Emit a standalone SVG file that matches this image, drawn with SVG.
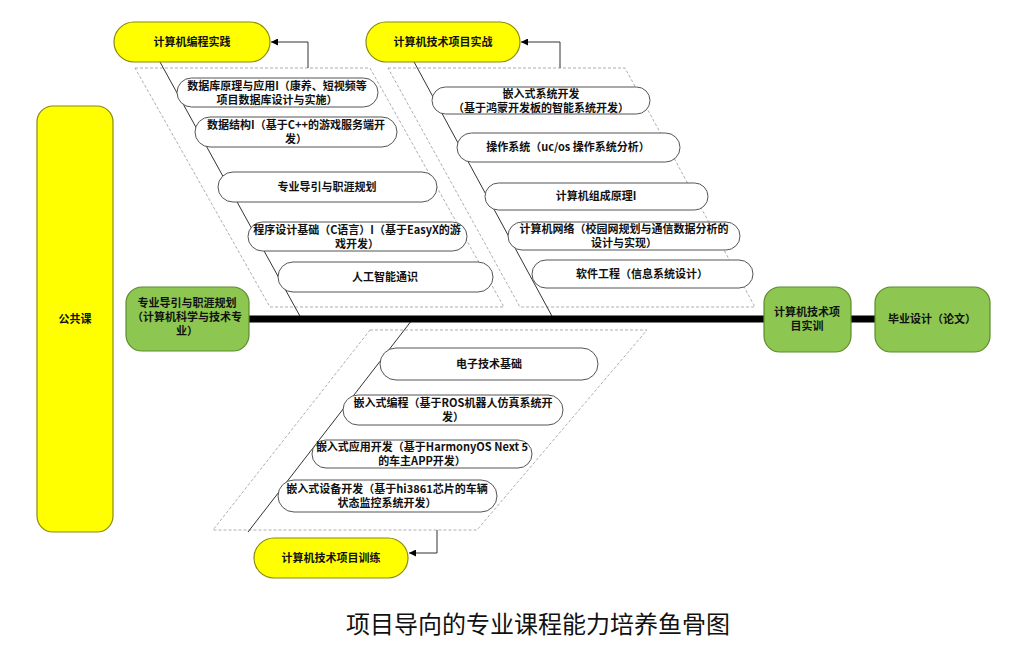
<svg xmlns="http://www.w3.org/2000/svg" width="1030" height="660" viewBox="0 0 1030 660">
<style>
.t{font-family:"Noto Sans CJK SC","Liberation Sans",sans-serif;font-size:11px;font-weight:bold;fill:#111;text-anchor:middle}
.pill{fill:#fff;stroke:#555;stroke-width:1}
.yel{fill:#FFFF00;stroke:#8a8a10;stroke-width:1.2}
.grn{fill:#8DC650;stroke:#5B8C2A;stroke-width:1.2}
.dash{fill:none;stroke:#999;stroke-width:0.8;stroke-dasharray:3 2}
.bone{stroke:#333;stroke-width:1;fill:none}
.arr{stroke:#333;stroke-width:1;fill:none;marker-end:url(#ah)}
.spine{stroke:#000;stroke-width:7;stroke-linecap:round}
</style>
<defs>
<marker id="ah" viewBox="0 0 10 10" refX="10" refY="5" markerWidth="9" markerHeight="7" markerUnits="userSpaceOnUse" orient="auto">
<path d="M0,0 L10,5 L0,10 z" fill="#000"/>
</marker>
</defs>
<rect width="1030" height="660" fill="#fff"/>
<g id="connectors">
<polygon class="dash" points="135,68 370,68 504,307 270,307"/>
<polygon class="dash" points="388,68 625,68 755,307 520,307"/>
<polygon class="dash" points="370,330 647,330 477,530 213,530"/>
<line class="bone" x1="160" y1="62" x2="301" y2="318"/>
<line class="bone" x1="413" y1="60" x2="553" y2="318"/>
<line class="bone" x1="412" y1="320" x2="248" y2="532"/>
<polyline class="arr" points="308,68 308,42 271,42"/>
<polyline class="arr" points="560,68 560,42 521,42"/>
<polyline class="arr" points="437,530 437,553 409,553"/>
<line class="spine" x1="248" y1="319" x2="765" y2="319"/>
<line class="spine" x1="851" y1="319" x2="875" y2="319"/>
</g>
<g id="n-gonggong"><rect class="yel" x="37" y="106" width="76" height="426" rx="16"/><text class="t" x="75" y="323">公共课</text></g>
<g id="n-zydy"><rect class="grn" x="126" y="287" width="123" height="64" rx="16"/>
<text class="t" x="187" y="307">专业导引与职涯规划</text><text class="t" x="187" y="321">（计算机科学与技术专</text><text class="t" x="187" y="335">业）</text></g>
<g id="n-sx"><rect class="grn" x="764" y="287" width="87" height="65" rx="16"/>
<text class="t" x="807" y="316">计算机技术项</text><text class="t" x="807" y="330">目实训</text></g>
<g id="n-by"><rect class="grn" x="875" y="287" width="115" height="65" rx="16"/>
<text class="t" x="932" y="323">毕业设计（论文）</text></g>
<g id="n-bcsj"><rect class="yel" x="114" y="22" width="156" height="40" rx="20"/><text class="t" x="192" y="46">计算机编程实践</text></g>
<g id="n-xmsz"><rect class="yel" x="366" y="22" width="154" height="40" rx="20"/><text class="t" x="443" y="46">计算机技术项目实战</text></g>
<g id="n-xmxl"><rect class="yel" x="254" y="538" width="154" height="40" rx="20"/><text class="t" x="331" y="562">计算机技术项目训练</text></g>
<g id="c1"><rect class="pill" x="177" y="78" width="201" height="29" rx="14.5"/><text class="t" x="277" y="90">数据库原理与应用I（康养、短视频等</text><text class="t" x="277" y="104">项目数据库设计与实施）</text></g>
<g id="c2"><rect class="pill" x="195" y="117" width="202" height="30" rx="15"/><text class="t" x="296" y="129">数据结构I（基于C++的游戏服务端开</text><text class="t" x="296" y="143">发）</text></g>
<g id="c3"><rect class="pill" x="218" y="172" width="219" height="30" rx="15"/><text class="t" x="327" y="191">专业导引与职涯规划</text></g>
<g id="c4"><rect class="pill" x="248" y="222" width="219" height="29" rx="14.5"/><text class="t" x="357" y="234">程序设计基础（C语言）I（基于EasyX的游</text><text class="t" x="357" y="248">戏开发）</text></g>
<g id="c5"><rect class="pill" x="278" y="262" width="215" height="30" rx="15"/><text class="t" x="385" y="281">人工智能通识</text></g>
<g id="c6"><rect class="pill" x="432" y="87" width="218" height="27" rx="13.5"/><text class="t" x="541" y="98">嵌入式系统开发</text><text class="t" x="541" y="112">（基于鸿蒙开发板的智能系统开发）</text></g>
<g id="c7"><rect class="pill" x="457" y="133" width="223" height="29" rx="14.5"/><text class="t" x="568" y="151">操作系统（uc/os 操作系统分析）</text></g>
<g id="c8"><rect class="pill" x="485" y="183" width="223" height="27" rx="13.5"/><text class="t" x="596" y="200">计算机组成原理I</text></g>
<g id="c9"><rect class="pill" x="508" y="222" width="232" height="28" rx="14"/><text class="t" x="624" y="233">计算机网络（校园网规划与通信数据分析的</text><text class="t" x="624" y="247">设计与实现）</text></g>
<g id="c10"><rect class="pill" x="532" y="260" width="221" height="28" rx="14"/><text class="t" x="642" y="278">软件工程（信息系统设计）</text></g>
<g id="c11"><rect class="pill" x="380" y="348" width="218" height="32" rx="16"/><text class="t" x="489" y="368">电子技术基础</text></g>
<g id="c12"><rect class="pill" x="343" y="395" width="220" height="30" rx="15"/><text class="t" x="453" y="407">嵌入式编程（基于ROS机器人仿真系统开</text><text class="t" x="453" y="421">发）</text></g>
<g id="c13"><rect class="pill" x="312" y="440" width="220" height="28" rx="14"/><text class="t" x="422" y="451">嵌入式应用开发（基于HarmonyOS Next 5</text><text class="t" x="422" y="465">的车主APP开发）</text></g>
<g id="c14"><rect class="pill" x="278" y="480" width="219" height="32" rx="16"/><text class="t" x="387" y="493">嵌入式设备开发（基于hi3861芯片的车辆</text><text class="t" x="387" y="507">状态监控系统开发）</text></g>
<text x="538" y="633" style="font-family:'Noto Sans CJK SC','Liberation Serif',serif;font-size:24px;fill:#111;text-anchor:middle">项目导向的专业课程能力培养鱼骨图</text>
</svg>
